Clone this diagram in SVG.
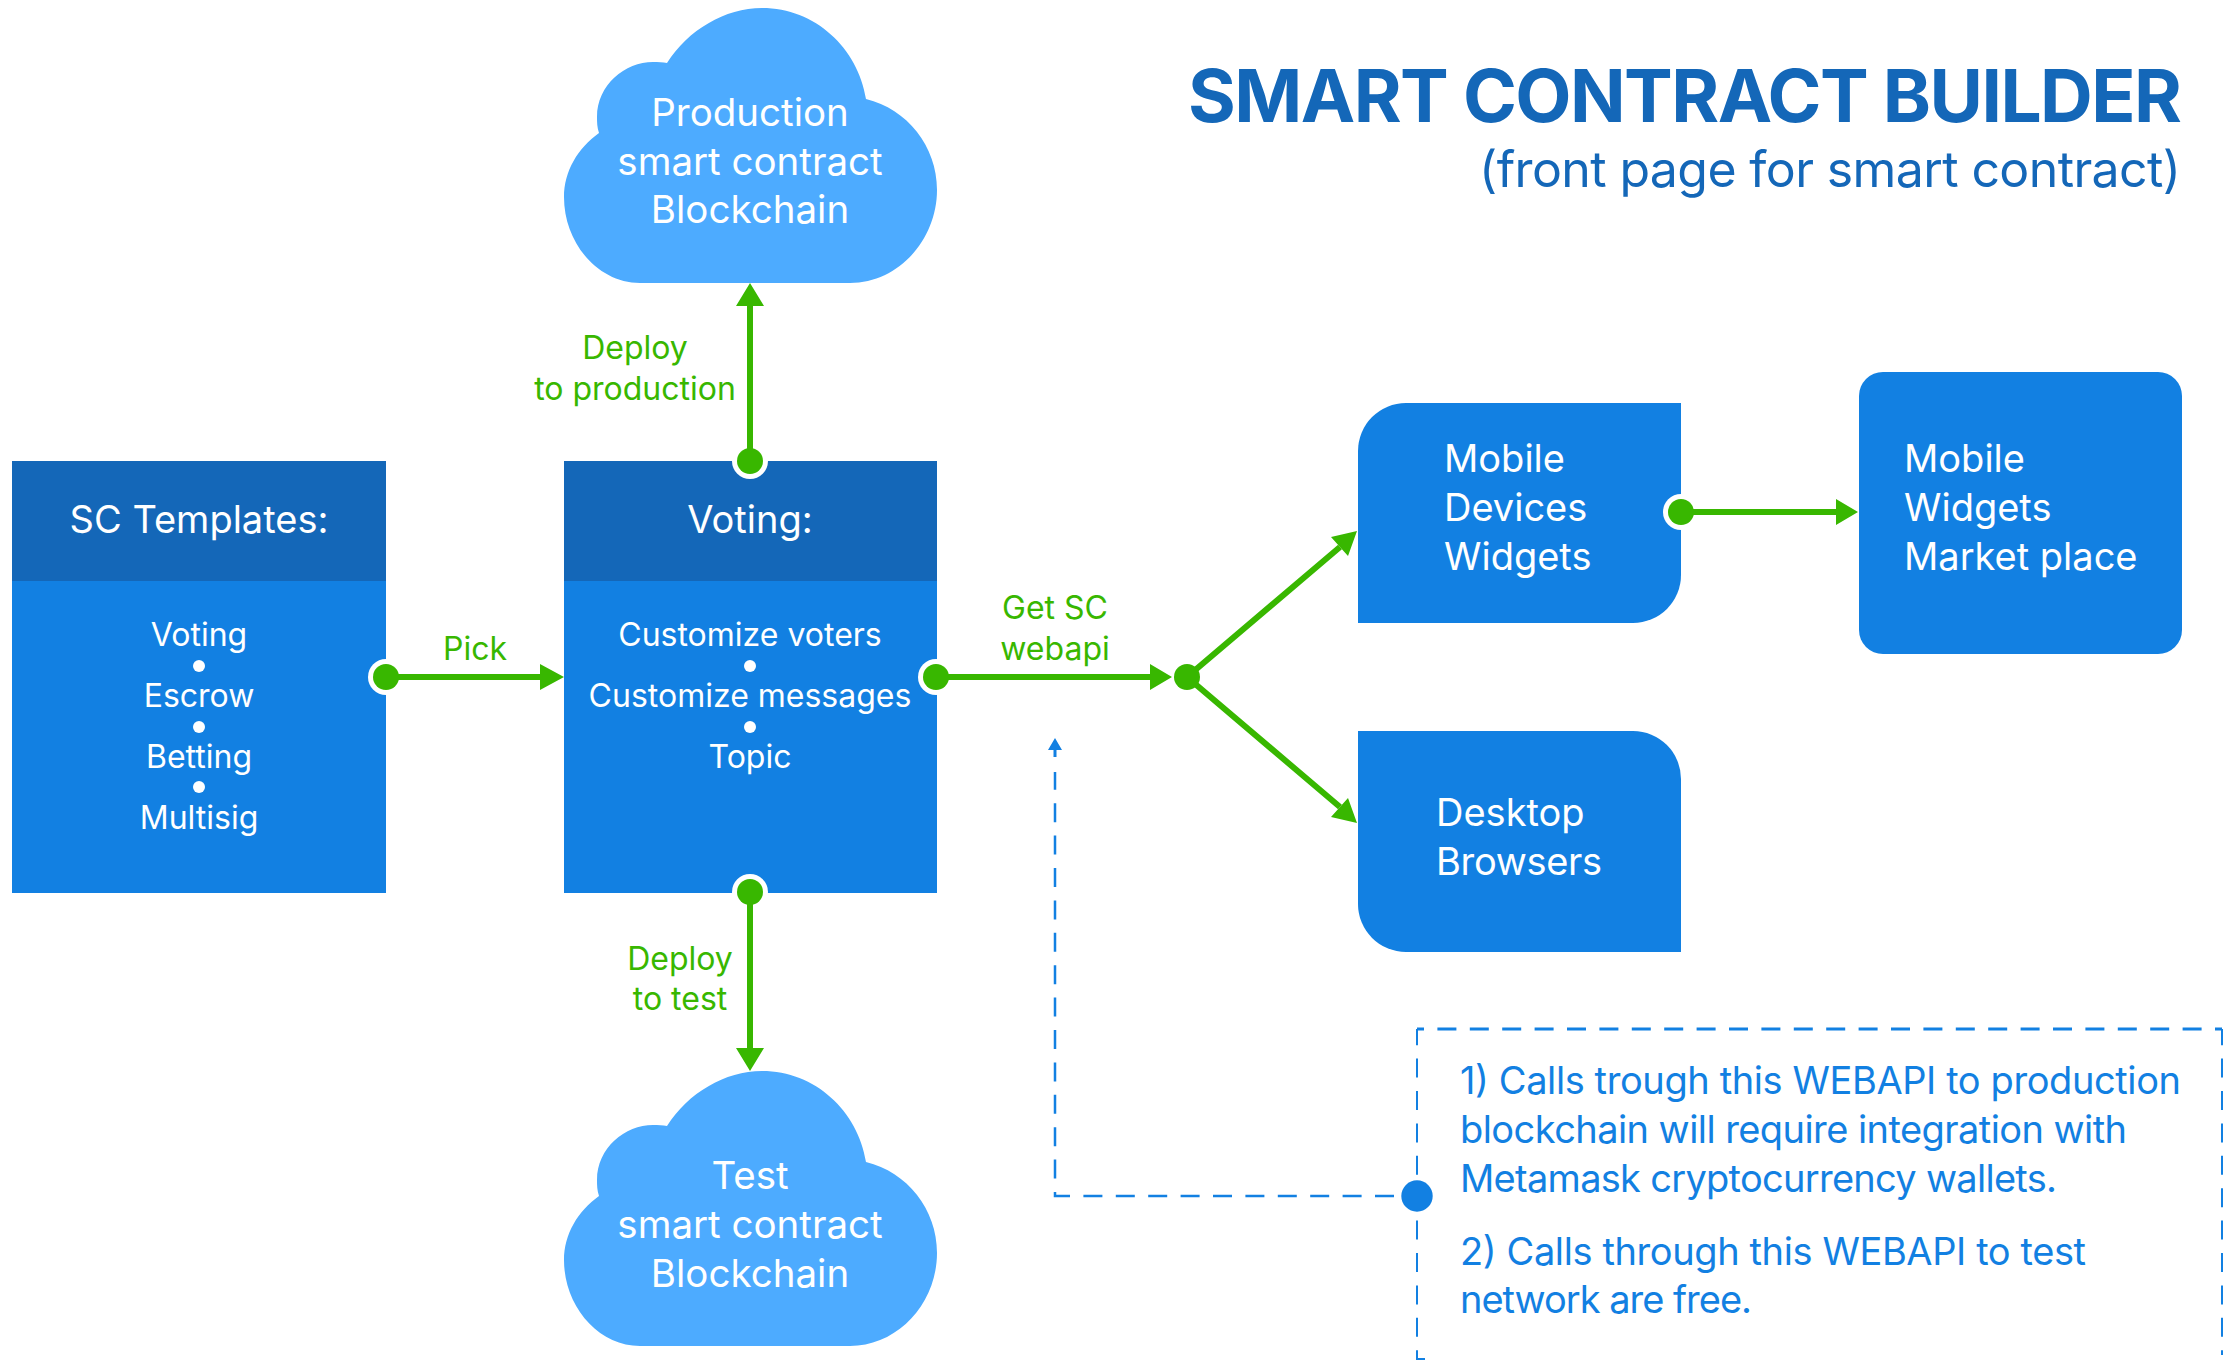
<svg xmlns="http://www.w3.org/2000/svg" width="2223" height="1360" viewBox="0 0 2223 1360">
<style>
text{font-family:Inter,"Liberation Sans",sans-serif}
.w{fill:#fff}.c{text-anchor:middle}
.h{font-size:38px}.b{font-size:38px}.cb{font-size:38.5px}.i{font-size:32px}
.g{fill:#38b700;font-size:32px;text-anchor:middle}
.n{fill:#1280e2;font-size:38px}
.box{fill:#1280e2}.head{fill:#1467b8}.cloud{fill:#4dabff}
.edge{stroke:#38b700;stroke-width:6;fill:none}
.dash{stroke:#1280e2;stroke-width:2;fill:none;stroke-dasharray:19 13.4}
.ring{fill:#fff}
.ah{fill:#38b700}
</style>
<defs>
<path id="cl" d="M640 283C598 283 564 243 564 197C564 171 578 148 599 133C597 127 597 122 597 117C597 85 625 62 653 62C658 62 663 62 667 63C688 30 725 8 762 8C815 8 858 48 866 99C907 109 937 146 937 190C937 240 898 283 850 283Z"/>
</defs>
<rect width="2223" height="1360" fill="#fff"/>
<g id="title">
<text x="1188" y="122" textLength="994" font-size="73" font-weight="700" fill="#1467b8">SMART CONTRACT BUILDER</text>
<text x="1479" y="187" textLength="702" font-size="50" fill="#1467b8">(front page for smart contract)</text>
</g>
<g id="prod-cloud"><use href="#cl" class="cloud"/>
<text x="750" y="126" class="w c cb">Production</text><text x="750" y="175" class="w c cb">smart contract</text><text x="750" y="223" class="w c cb">Blockchain</text></g>
<g id="test-cloud"><use href="#cl" y="1063" class="cloud"/>
<text x="750" y="1189" class="w c cb">Test</text><text x="750" y="1238" class="w c cb">smart contract</text><text x="750" y="1287" class="w c cb">Blockchain</text></g>
<g id="templates"><rect x="12" y="461" width="374" height="432" class="box"/><rect x="12" y="461" width="374" height="120" class="head"/>
<text x="199" y="533" class="w c h">SC Templates:</text>
<text x="199" y="646" class="w c i">Voting</text><circle cx="199" cy="666" r="6" class="w"/>
<text x="199" y="707" class="w c i">Escrow</text><circle cx="199" cy="727" r="6" class="w"/>
<text x="199" y="768" class="w c i">Betting</text><circle cx="199" cy="787" r="6" class="w"/>
<text x="199" y="829" class="w c i">Multisig</text></g>
<g id="voting"><rect x="564" y="461" width="373" height="432" class="box"/><rect x="564" y="461" width="373" height="120" class="head"/>
<text x="750" y="533" class="w c h">Voting:</text>
<text x="750" y="646" class="w c i">Customize voters</text><circle cx="750" cy="666" r="6" class="w"/>
<text x="750" y="707" class="w c i">Customize messages</text><circle cx="750" cy="727" r="6" class="w"/>
<text x="750" y="768" class="w c i">Topic</text></g>
<g id="mobile-devices"><path d="M1406 403H1681V575A48 48 0 0 1 1633 623H1358V451A48 48 0 0 1 1406 403Z" class="box"/>
<text x="1444" y="472" class="w b">Mobile</text><text x="1444" y="521" class="w b">Devices</text><text x="1444" y="570" class="w b">Widgets</text></g>
<g id="desktop"><path d="M1358 731H1633A48 48 0 0 1 1681 779V952H1406A48 48 0 0 1 1358 904Z" class="box"/>
<text x="1436" y="826" class="w b">Desktop</text><text x="1436" y="875" class="w b" textLength="166">Browsers</text></g>
<g id="marketplace"><rect x="1859" y="372" width="323" height="282" rx="24" class="box"/>
<text x="1904" y="472" class="w b">Mobile</text><text x="1904" y="521" class="w b">Widgets</text><text x="1904" y="570" class="w b">Market place</text></g>
<g id="note">
<path d="M1417 1029H2222" class="dash" style="stroke-width:3;stroke-dashoffset:12"/>
<path d="M1417 1029V1355M2222 1029V1355" class="dash" style="stroke-dashoffset:2.8"/>
<path d="M1417 1353V1359H1425" class="dash" style="stroke-dasharray:none"/>
<text x="1460" y="1094" class="n" textLength="721">1) Calls trough this WEBAPI to production</text>
<text x="1460" y="1143" class="n" textLength="667">blockchain will require integration with</text>
<text x="1460" y="1192" class="n" textLength="597">Metamask cryptocurrency wallets.</text>
<text x="1460" y="1265" class="n" textLength="626">2) Calls through this WEBAPI to test</text>
<text x="1460" y="1313" class="n" textLength="292">network are free.</text></g>
<g id="connectors">
<circle class="ring" cx="386" cy="677" r="18"/><circle class="ring" cx="750" cy="461" r="18"/><circle class="ring" cx="750" cy="892" r="18"/><circle class="ring" cx="936" cy="677" r="18"/><circle class="ring" cx="1681" cy="512" r="18"/>
<path class="edge" d="M386 677H545M750 461V300M750 892V1054M936 677H1155M1187 677L1340 547M1187 677L1340 807M1681 512H1840"/>
<path class="ah" d="M564 677L540 664V690ZM750 283L736 306H764ZM750 1071L736 1048H764ZM1172 677L1150 664V690ZM1357 531L1331 537L1348 556ZM1357 823L1331 817L1348 798ZM1858 512L1836 499V525Z"/>
<circle cx="386" cy="677" r="13" class="ah"/><circle cx="750" cy="461" r="13" class="ah"/><circle cx="750" cy="892" r="13" class="ah"/><circle cx="936" cy="677" r="13" class="ah"/><circle cx="1187" cy="677" r="13" class="ah"/><circle cx="1681" cy="512" r="13" class="ah"/>
<path class="dash" style="stroke-width:2.5" d="M1394 1196H1055V772"/><path d="M1055 738L1048 750H1053.500V757H1056.500V750H1062Z" fill="#1280e2"/><circle cx="1417" cy="1196" r="15.700" fill="#1280e2"/>
<text x="475" y="660" class="g">Pick</text>
<text x="635" y="359" class="g">Deploy</text><text x="635" y="400" class="g">to production</text>
<text x="680" y="970" class="g">Deploy</text><text x="680" y="1010" class="g">to test</text>
<text x="1055" y="619" class="g">Get SC</text><text x="1055" y="660" class="g">webapi</text>
</g>
</svg>
